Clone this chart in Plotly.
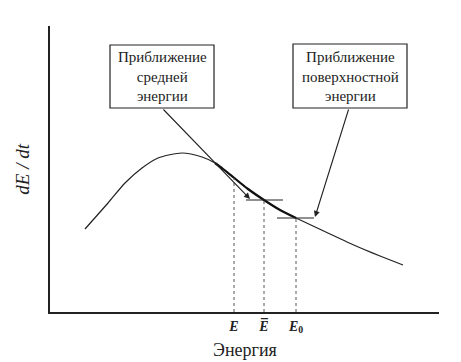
import plotly.graph_objects as go

# curve samples (energy, dE/dt) in arbitrary units
curve_x = [35, 58, 75, 92, 108, 132, 152, 165, 173, 183, 198, 214, 230, 246, 263, 280, 297, 313, 330, 353]
curve_y = [83, 109, 129, 144, 154, 159, 155, 149, 143, 135, 123, 112, 102, 94, 86, 78, 70, 63, 56, 47]

# characteristic energies
energy_x = [184, 214, 246]
energy_y = [134, 112, 94]
energy_labels = ["<b><i>E</i></b>", "<b><i>E\u0305</i></b>", "<b><i>E</i><sub>0</sub></b>"]

# horizontal approximation levels
level_y = [112, 94]
level_x0 = [196, 227]
level_x1 = [233, 264]

box_texts = ["Приближение<br>средней<br>энергии", "Приближение<br>поверхностной<br>энергии"]
box_x0 = [60, 243]
box_x1 = [164, 357]
box_y0 = [204, 204]
box_y1 = [267, 268]
arrow_tail_x = [112, 299]
arrow_tail_y = [204, 204]
arrow_head_x = [200, 265]
arrow_head_y = [113, 95]

serif = "Liberation Serif"

fig = go.Figure()
fig.add_trace(go.Scatter(x=curve_x, y=curve_y, mode="lines",
                         line=dict(color="#222", width=1.2, shape="spline", smoothing=0.7),
                         hoverinfo="skip"))
# thick segment of the curve between E and E0
seg = [(x, y) for x, y in zip(curve_x, curve_y) if 165 <= x <= 246]
fig.add_trace(go.Scatter(x=[p[0] for p in seg], y=[p[1] for p in seg], mode="lines",
                         line=dict(color="#111", width=2.2, shape="spline", smoothing=0.7), hoverinfo="skip"))
for ex, ey in zip(energy_x, energy_y):
    fig.add_trace(go.Scatter(x=[ex, ex], y=[0, ey], mode="lines",
                             line=dict(color="#555", width=1, dash="dot"), hoverinfo="skip"))
for ly, lx0, lx1 in zip(level_y, level_x0, level_x1):
    fig.add_trace(go.Scatter(x=[lx0, lx1], y=[ly, ly], mode="lines",
                             line=dict(color="#222", width=1.2), hoverinfo="skip"))

shapes = []
annotations = []
for t, x0, x1, y0, y1, tx, ty, hx, hy in zip(box_texts, box_x0, box_x1, box_y0, box_y1,
                                              arrow_tail_x, arrow_tail_y, arrow_head_x, arrow_head_y):
    shapes.append(dict(type="rect", xref="x", yref="y", x0=x0, x1=x1, y0=y0, y1=y1,
                       line=dict(color="#222", width=1.2), fillcolor="white", layer="above"))
    annotations.append(dict(x=(x0 + x1) / 2, y=(y0 + y1) / 2, xref="x", yref="y", text=t, showarrow=False,
                            font=dict(family=serif, size=15, color="#222"), align="center"))
    annotations.append(dict(x=hx, y=hy, ax=tx, ay=ty, xref="x", yref="y", axref="x", ayref="y",
                            text="", showarrow=True, arrowhead=2, arrowsize=1.1, arrowwidth=1.1,
                            arrowcolor="#222", standoff=0, startstandoff=0))

annotations.append(dict(x=0.5, y=-0.09, xref="paper", yref="paper", text="Энергия", showarrow=False,
                        yanchor="top", font=dict(family=serif, size=18, color="#222")))
annotations.append(dict(x=-0.105, y=0.5, xref="paper", yref="paper", text="<i>dE / dt</i>", showarrow=False,
                        textangle=-90, font=dict(family=serif, size=19, color="#222")))

fig.update_layout(
    width=461, height=362,
    margin=dict(l=50, r=22, t=26, b=50),
    paper_bgcolor="white", plot_bgcolor="white",
    showlegend=False,
    shapes=shapes, annotations=annotations,
    xaxis=dict(range=[0, 389], showgrid=False, zeroline=False, showline=True, linecolor="#222", linewidth=1.5,
               tickvals=energy_x, ticktext=energy_labels, ticks="",
               tickfont=dict(family=serif, size=14, color="#222")),
    yaxis=dict(range=[0, 286], showgrid=False, zeroline=False, showline=True, linecolor="#222", linewidth=1.5,
               showticklabels=False, ticks=""),
)
fig.write_html("out.html")
